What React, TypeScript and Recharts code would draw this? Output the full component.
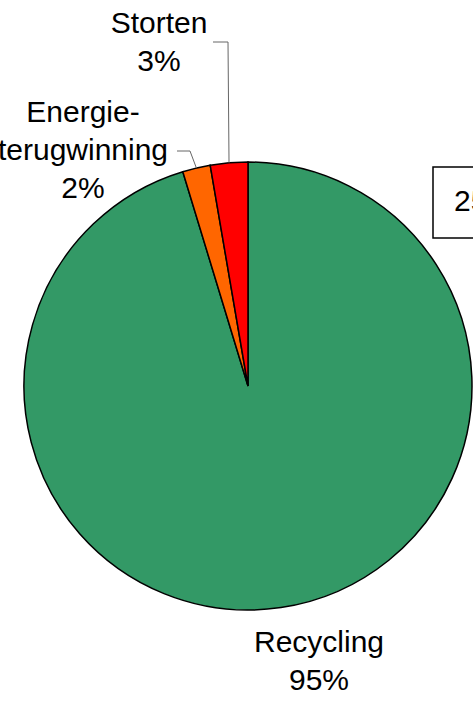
import { Cell, Pie, PieChart } from "recharts";

// Verwerking van afval (shares)
const CATEGORIES = ["Recycling", "Energieterugwinning", "Storten"];
const SHARES = [95.3, 2.0, 2.7];
const LABEL_LINES = [
  ["Recycling", "95%"],
  ["Energie-", "terugwinning", "2%"],
  ["Storten", "3%"],
];
const BOX_TEXT = "25";

const COLORS = ["#339966", "#FF6600", "#FF0000"];
const FONT = "'Liberation Sans', Arial, sans-serif";
const WIDTH = 473;
const HEIGHT = 705;
const LINE_HEIGHT = 38;

/** Where each label text sits and how its leader bends (Excel-style manual placement). */
const LABEL_LAYOUT: Record<
  string,
  { x: number; y: number; elbow?: [number, number]; end?: [number, number] }
> = {
  Recycling: { x: 319, y: 652 },
  Energieterugwinning: { x: 83, y: 122, elbow: [190, 151], end: [177, 151] },
  Storten: { x: 159, y: 33, elbow: [228, 42], end: [213, 42] },
};

const data = CATEGORIES.map((name, i) => ({
  name,
  value: SHARES[i],
  lines: LABEL_LINES[i],
}));

const RADIAN = Math.PI / 180;

function SliceLabel(props: any) {
  const { cx, cy, midAngle, outerRadius, payload, name } = props;
  const layout = LABEL_LAYOUT[name];
  if (!layout) return null;
  const lines: string[] = payload?.lines ?? [name];
  const ex = cx + outerRadius * Math.cos(-midAngle * RADIAN);
  const ey = cy + outerRadius * Math.sin(-midAngle * RADIAN);
  return (
    <g>
      {layout.elbow && layout.end && (
        <polyline
          points={`${ex},${ey} ${layout.elbow[0]},${layout.elbow[1]} ${layout.end[0]},${layout.end[1]}`}
          fill="none"
          stroke="#666"
          strokeWidth={1}
        />
      )}
      <text
        x={layout.x}
        y={layout.y}
        textAnchor="middle"
        fontFamily={FONT}
        fontSize={30}
        fill="#000"
      >
        {lines.map((line, i) => (
          <tspan key={i} x={layout.x} y={layout.y + i * LINE_HEIGHT}>
            {line}
          </tspan>
        ))}
      </text>
    </g>
  );
}

export default function App() {
  return (
    <div
      style={{
        position: "absolute",
        left: 0,
        top: 0,
        width: WIDTH,
        height: HEIGHT,
        overflow: "hidden",
        background: "#fff",
      }}
    >
      <PieChart
        width={WIDTH}
        height={HEIGHT}
        margin={{ top: 0, right: 0, bottom: 0, left: 0 }}
      >
        <Pie
          data={data}
          dataKey="value"
          nameKey="name"
          cx={248}
          cy={386}
          outerRadius={224}
          startAngle={90}
          endAngle={-270}
          stroke="#000"
          strokeWidth={1.5}
          label={SliceLabel}
          labelLine={false}
          isAnimationActive={false}
        >
          {data.map((d, i) => (
            <Cell key={d.name} fill={COLORS[i]} />
          ))}
        </Pie>
        <g>
          <rect x={433} y={167} width={80} height={71} fill="#fff" stroke="#000" strokeWidth={1.5} />
          <text x={454} y={211} fontFamily={FONT} fontSize={30} fill="#000">
            {BOX_TEXT}
          </text>
        </g>
      </PieChart>
    </div>
  );
}
